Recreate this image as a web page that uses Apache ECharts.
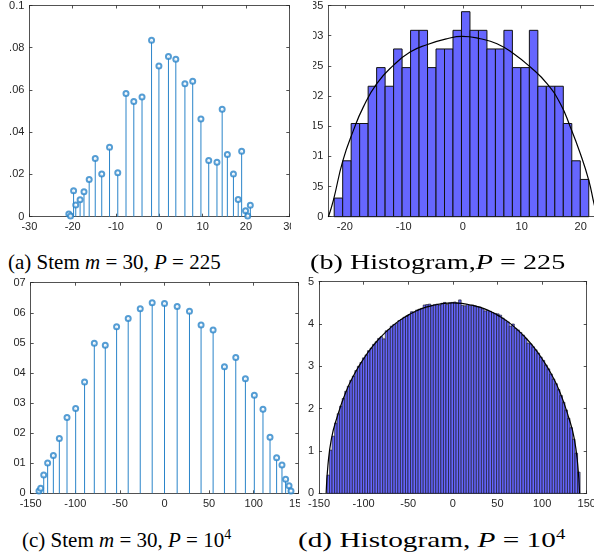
<!DOCTYPE html>
<html>
<head>
<meta charset="utf-8">
<script src="https://cdn.jsdelivr.net/npm/echarts@6/dist/echarts.min.js"></script>
<style>
  html, body { margin: 0; padding: 0; background: #fff; }
  body { width: 594px; height: 558px; position: relative; overflow: hidden; }
  .clip { position: absolute; overflow: hidden; }
  .chart { position: absolute; width: 640px; height: 558px; }
  .cap { position: absolute; font-family: "Liberation Serif", "Times New Roman", serif; font-size: 21px;
         line-height: 22px; white-space: nowrap; color: #000; z-index: 5; transform-origin: 0 50%; }
  .cap sup { font-size: 14px; vertical-align: 8px; line-height: 0; }
  .wide { font-size: 22px; }
</style>
</head>
<body>
<div class="clip" id="clipA" style="left:9px;top:0;width:282px;height:245px"><div class="chart" id="chartA"></div></div>
<div class="clip" id="clipB" style="left:313px;top:0;width:281px;height:245px"><div class="chart" id="chartB"></div></div>
<div class="clip" id="clipC" style="left:14px;top:276px;width:286px;height:245px"><div class="chart" id="chartC"></div></div>
<div class="clip" id="clipD" style="left:300px;top:272px;width:294px;height:250px"><div class="chart" id="chartD"></div></div>

<div class="cap" style="left:8px;top:251px">(a) Stem <i>m</i> = 30, <i>P</i> = 225</div>
<div class="cap wide" style="left:310px;top:251px;transform:scaleX(1.28)">(b) Histogram,<i>P</i> = 225</div>
<div class="cap" style="left:22px;top:529px">(c) Stem <i>m</i> = 30, <i>P</i> = 10<sup>4</sup></div>
<div class="cap wide" style="left:298px;top:529px;transform:scaleX(1.33)">(d) Histogram, <i>P</i> = 10<sup>4</sup></div>

<script>
// (a) stem, P = 225
const stemAX = [-20.9, -20.5, -19.8, -19.3, -18.3, -17.4, -16.2, -14.8, -13.3, -11.5, -9.6, -7.7, -5.9, -4.0, -1.8, -0.1,
  2.1, 3.8, 5.9, 7.7, 9.6, 11.4, 13.3, 14.5, 15.7, 17.1, 18.2, 19.0, 19.9, 20.4, 21.0];
const stemAY = [0.0013, 0.0003, 0.0123, 0.0055, 0.008, 0.0118, 0.0176, 0.0276, 0.0202, 0.0329, 0.0208, 0.0583, 0.0545, 0.0567, 0.0836, 0.0713,
  0.0759, 0.0745, 0.063, 0.0641, 0.0463, 0.0266, 0.0258, 0.0509, 0.0294, 0.0202, 0.0082, 0.031, 0.0028, 0.0003, 0.0054];
const ticksAX = [-30, -20, -10, 0, 10, 20, 30];
const ticksAY = [0, 0.02, 0.04, 0.06, 0.08, 0.1];

// (b) histogram, P = 225 (counts per bin)
const histBStart = -21.8;
const histBWidth = 1.439;
const histBCounts = [1, 3, 5, 5, 7, 8, 7, 9, 8, 10, 10, 8, 9, 9, 10, 11, 10, 10, 9, 9, 10, 8, 8, 10, 7, 7, 7, 5, 3, 2];
const histBTotal = 225;
const curveBX = [-22.78, -21.93, -20.34, -18.54, -16.85, -14.58, -11.76, -8.93, -6.1, -2.66, -0.12, 2.98, 5.81, 8.64,
  11.46, 14.29, 16.54, 18.24, 19.93, 21.36, 22.25, 22.8];
const curveBY = [0, 0.00276, 0.00926, 0.0143, 0.0182, 0.02205, 0.02508, 0.02728, 0.0285, 0.02949, 0.02987, 0.02949, 0.02866, 0.027,
  0.0248, 0.02205, 0.01875, 0.01488, 0.01048, 0.00607, 0.0022, 0];
const ticksBX = [-20, -10, 0, 10, 20];
const ticksBY = [0, 0.005, 0.01, 0.015, 0.02, 0.025, 0.03, 0.035];

// (c) stem, P = 10^4
const stemCX = [-140.7, -138.8, -135.4, -131, -124.6, -117.9, -109.3, -99.6, -89.6, -78.7, -66.4, -53.7, -40.7, -27.2, -13.8, 0,
  14.2, 28, 41, 54.5, 67.2, 79.9, 90.7, 100.7, 110.4, 118.3, 125.7, 131.7, 135.8, 139.6, 141.8];
const stemCY = [0.0008, 0.0017, 0.0061, 0.0101, 0.0126, 0.0182, 0.0252, 0.0282, 0.037, 0.0499, 0.0492, 0.0554, 0.0581, 0.0613, 0.0633, 0.0631,
  0.0621, 0.0605, 0.0559, 0.0543, 0.0421, 0.0451, 0.0381, 0.0326, 0.0279, 0.0186, 0.0118, 0.0094, 0.0047, 0.0025, 0.0008];
const ticksCX = [-150, -100, -50, 0, 50, 100, 150];
const ticksCY = [0, 0.01, 0.02, 0.03, 0.04, 0.05, 0.06, 0.07];

// (d) histogram, P = 10^4 (density, x10^-3)
const histDStart = -141.0;
const histDWidth = 2.836;
const histDValues = [
  0.43, 1.02, 1.35, 1.66, 1.88, 2.06, 2.24, 2.41, 2.53, 2.67,
  2.77, 2.90, 3.00, 3.09, 3.20, 3.27, 3.37, 3.43, 3.52, 3.58,
  3.66, 3.70, 3.65, 3.84, 3.87, 3.95, 3.99, 4.02, 4.08, 4.11,
  4.16, 4.19, 4.22, 4.29, 4.28, 4.33, 4.35, 4.37, 4.45, 4.46,
  4.47, 4.44, 4.46, 4.47, 4.45, 4.49, 4.51, 4.46, 4.50, 4.51,
  4.52, 4.50, 4.57, 4.44, 4.43, 4.46, 4.44, 4.45, 4.43, 4.41,
  4.40, 4.36, 4.31, 4.32, 4.30, 4.27, 4.25, 4.24, 4.21, 4.14,
  4.09, 4.05, 3.95, 4.00, 3.90, 3.86, 3.80, 3.74, 3.66, 3.55,
  3.53, 3.46, 3.39, 3.31, 3.22, 3.14, 3.03, 2.94, 2.82, 2.70,
  2.59, 2.45, 2.31, 2.15, 1.97, 1.77, 1.55, 1.28, 0.95, 0.50
];
const curveDX = [-142, -140, -136, -130, -120, -110, -100, -90, -80, -70, -60, -50, -40, -30, -20, -10, 0,
  10, 20, 30, 40, 50, 60, 70, 80, 90, 100, 110, 120, 130, 136, 140, 142];
const curveDY = [0, 0.66, 1.30, 1.78, 2.39, 2.83, 3.18, 3.47, 3.71, 3.91, 4.08, 4.21, 4.32, 4.40, 4.45, 4.49, 4.50,
  4.49, 4.45, 4.40, 4.32, 4.21, 4.08, 3.91, 3.71, 3.47, 3.18, 2.83, 2.39, 1.78, 1.30, 0.66, 0];
const ticksDX = [-150, -100, -50, 0, 50, 100, 150];
const ticksDY = [0, 1, 2, 3, 4, 5];

const axisColor = "#262626";
const stemColor = "#2a84c9";
const histFill = "#6666ff";

// 坐标轴 (MATLAB 风格, 四边框 + 内刻度)
const makeAxis = (min, max, ticks, position, showLabel) => ({
  type: "value",
  position: position,
  min: min,
  max: max,
  axisLine: { show: true, onZero: false, lineStyle: { color: axisColor, width: 0.8 } },
  axisTick: { show: true, inside: true, length: 3, customValues: ticks, lineStyle: { color: axisColor, width: 0.8 } },
  axisLabel: {
    show: showLabel, customValues: ticks, color: axisColor, fontSize: 11,
    fontFamily: "Liberation Sans, Arial, sans-serif", margin: 5,
    showMinLabel: true, showMaxLabel: true
  },
  splitLine: { show: false }
});

const boxAxes = (xmin, xmax, xt, ymin, ymax, yt) => ({
  xAxis: [makeAxis(xmin, xmax, xt, "bottom", true), makeAxis(xmin, xmax, xt, "top", false)],
  yAxis: [makeAxis(ymin, ymax, yt, "left", true), makeAxis(ymin, ymax, yt, "right", false)]
});

const stemSeries = (xs, ys) => {
  const pts = xs.map((x, i) => [x, ys[i]]);
  return [
    {
      type: "custom",
      data: pts,
      renderItem: (params, api) => {
        const p0 = api.coord([api.value(0), 0]);
        const p1 = api.coord([api.value(0), api.value(1)]);
        return { type: "line", shape: { x1: p0[0], y1: p0[1], x2: p1[0], y2: p1[1] }, style: { stroke: stemColor, lineWidth: 1 } };
      }
    },
    {
      type: "scatter",
      data: pts,
      symbol: "emptyCircle",
      symbolSize: 5,
      itemStyle: { color: stemColor, borderWidth: 1 }
    }
  ];
};

const histSeries = (start, width, heights, lw) => ({
  type: "custom",
  data: heights.map((h, i) => [start + i * width, start + (i + 1) * width, h]),
  renderItem: (params, api) => {
    const a = api.coord([api.value(0), 0]);
    const b = api.coord([api.value(1), api.value(2)]);
    return {
      type: "rect",
      shape: { x: a[0], y: b[1], width: b[0] - a[0], height: a[1] - b[1] },
      style: { fill: histFill, stroke: "#111", lineWidth: lw }
    };
  }
});

const curveSeries = (xs, ys) => ({
  type: "line",
  data: xs.map((x, i) => [x, ys[i]]),
  smooth: true,
  showSymbol: false,
  z: 5,
  lineStyle: { color: "#000", width: 1.2 }
});

const setupChart = (id, clipId, option) => {
  const clip = document.getElementById(clipId);
  const el = document.getElementById(id);
  el.style.left = -clip.offsetLeft + "px";
  el.style.top = -clip.offsetTop + "px";
  const chart = echarts.init(el, null, { renderer: "canvas" });
  chart.setOption(Object.assign({ animation: false, backgroundColor: "#fff" }, option));
  return chart;
};

// (a)
setupChart("chartA", "clipA", Object.assign({
  grid: { left: 21.7, top: 5, width: 267.6, height: 211.7 },
  series: stemSeries(stemAX, stemAY)
}, boxAxes(-30, 30, ticksAX, 0, 0.1, ticksAY)));

// (b)
const densB = histBCounts.map(c => c / (histBTotal * histBWidth));
setupChart("chartB", "clipB", Object.assign({
  grid: { left: 328.3, top: 5, width: 268.9, height: 211.7 },
  series: [histSeries(histBStart, histBWidth, densB, 1), curveSeries(curveBX, curveBY)]
}, boxAxes(-22.8, 22.8, ticksBX, 0, 0.035, ticksBY)));

// (c)
setupChart("chartC", "clipC", Object.assign({
  grid: { left: 30.7, top: 282.7, width: 267.6, height: 210.6 },
  series: stemSeries(stemCX, stemCY)
}, boxAxes(-150, 150, ticksCX, 0, 0.07, ticksCY)));

// (d)
setupChart("chartD", "clipD", Object.assign({
  grid: { left: 319, top: 281.7, width: 267.7, height: 211.6 },
  graphic: [{ type: "text", left: 318, top: 264, style: { text: "×10⁻³", fontSize: 10, fill: axisColor } }],
  series: [histSeries(histDStart, histDWidth, histDValues, 0.6), curveSeries(curveDX, curveDY)]
}, boxAxes(-150, 150, ticksDX, 0, 5, ticksDY)));
</script>
</body>
</html>
